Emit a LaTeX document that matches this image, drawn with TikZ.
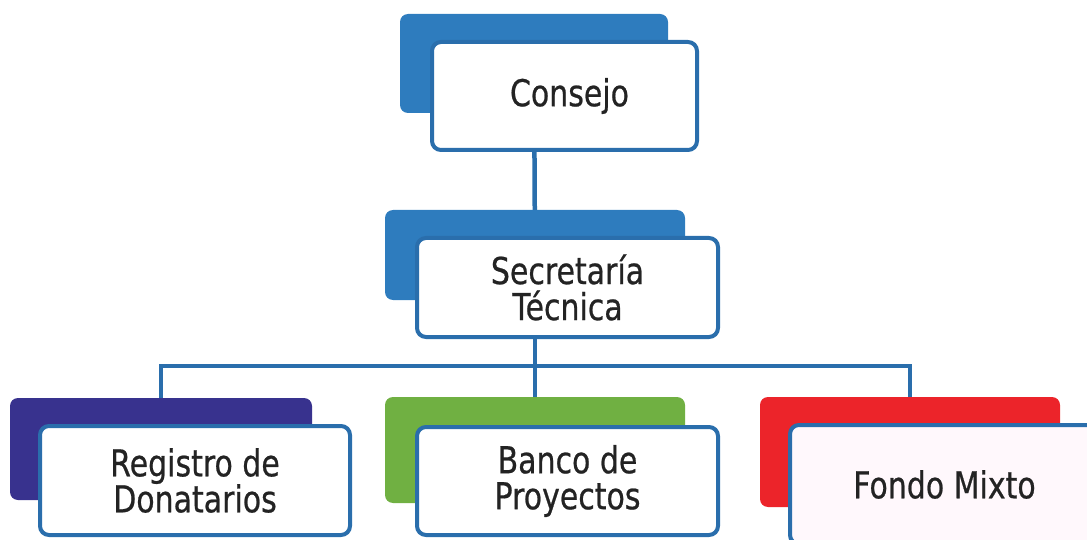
\documentclass[tikz,border=0pt]{standalone}
\usepackage{fontspec}
\setmainfont{DejaVu Sans}[FakeStretch=0.81,FakeBold=0.6]
\usepackage{tikz}
\usetikzlibrary{positioning,backgrounds}

\definecolor{lineblue}{RGB}{42,110,172}
\definecolor{cardblue}{RGB}{46,124,190}
\definecolor{cardindigo}{RGB}{56,50,142}
\definecolor{cardgreen}{RGB}{112,176,66}
\definecolor{cardred}{RGB}{236,36,42}
\definecolor{inktext}{RGB}{35,35,35}

\begin{document}
\begin{tikzpicture}[x=1pt,y=-1pt,
		back/.style={fill=#1, rounded corners=8pt, inner sep=0pt},
		front/.style={draw=lineblue, line width=4pt, fill=white, rounded corners=9pt, inner sep=0pt,
			align=center, text=inktext, font=\fontsize{37}{36}\selectfont},
		link/.style={draw=lineblue, line width=4.5pt}]
			\clip (0,0) rectangle (1087,540);
			% back cards
			\node[back=cardblue, minimum width=268pt, minimum height=99pt] (consejoBack) at (534,63.5) {};
			\node[back=cardblue, minimum width=300pt, minimum height=90pt] (secBack) at (535,255) {};
			\node[back=cardindigo, minimum width=302pt, minimum height=102pt] (regBack) at (161,449) {};
			\node[back=cardgreen, minimum width=300pt, minimum height=106pt] (bancoBack) at (535,450) {};
			\node[back=cardred, minimum width=300pt, minimum height=110pt] (fondoBack) at (910,452) {};
			% front cards
			\node[front, minimum width=265pt, minimum height=108pt] (consejo) at (564.5,96) {\hspace*{10pt}Consejo};
			\node[front, minimum width=301pt, minimum height=99pt] (sec) at (567.5,287.5) {Secretaría\\Técnica};
			\node[front, minimum width=310pt, minimum height=109pt] (reg) at (195,480.5) {Registro de\\Donatarios};
			\node[front, minimum width=301pt, minimum height=108pt] (banco) at (567.5,481) {Banco de\\Proyectos};
			\node[front, fill={rgb,255:red,255;green,248;blue,252}, minimum width=309pt, minimum height=119pt] (fondo) at (944.5,484.5) {Fondo Mixto};
			\coordinate (bar) at (535,366);
			\begin{scope}[on background layer]
				\draw[link] (consejoBack.center) -- (secBack.center);
				\draw[link] (secBack.center) -- (bancoBack.center);
				\draw[link] (regBack.center) |- (bar) -| (fondoBack.center);
			\end{scope}
			\end{tikzpicture}
\end{document}
